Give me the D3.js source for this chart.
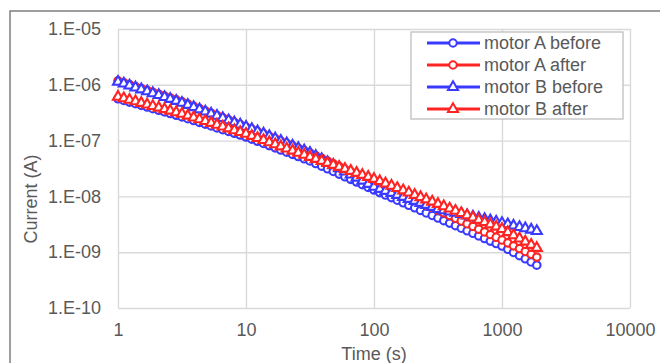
<!DOCTYPE html>
<html>
<head>
<meta charset="utf-8">
<script src="https://cdn.jsdelivr.net/npm/d3@7"></script>
<style>
body { margin: 0; background: #fff; }
svg { display: block; font-family: "Liberation Sans", Arial, sans-serif; }
</style>
</head>
<body>
<script>
// data
var timeS = [1, 1.11, 1.23, 1.37, 1.52, 1.69, 1.87, 2.08, 2.31, 2.56, 2.85, 3.16, 3.51, 3.90, 4.33, 4.81, 5.34, 5.93, 6.58, 7.31, 8.11, 9.01,
	10, 11.1, 12.3, 13.7, 15.2, 16.9, 18.7, 20.8, 23.1, 25.6, 28.5, 31.6, 35.1, 39.0, 43.3, 48.1, 53.4, 59.3, 65.8, 73.1, 81.1, 90.1,
	100, 111, 123, 137, 152, 169, 187, 208, 231, 256, 285, 316, 351, 390, 433, 481, 534, 593, 658, 731, 811, 901,
	1000, 1110, 1230, 1370, 1520, 1690, 1870];

var motorABefore = [5.61e-7, 5.25e-7, 4.90e-7, 4.58e-7, 4.28e-7, 4.00e-7, 3.73e-7, 3.49e-7, 3.26e-7, 3.05e-7, 2.84e-7, 2.66e-7,
	2.47e-7, 2.29e-7, 2.12e-7, 1.97e-7, 1.83e-7, 1.69e-7, 1.57e-7, 1.46e-7, 1.35e-7, 1.26e-7, 1.16e-7,
	1.06e-7, 9.72e-8, 8.89e-8, 8.13e-8, 7.41e-8, 6.78e-8, 6.19e-8, 5.66e-8, 5.18e-8, 4.73e-8, 4.33e-8,
	3.88e-8, 3.48e-8, 3.12e-8, 2.80e-8, 2.51e-8, 2.25e-8, 2.02e-8, 1.81e-8, 1.62e-8, 1.45e-8, 1.30e-8,
	1.17e-8, 1.06e-8, 9.51e-9, 8.55e-9, 7.69e-9, 6.92e-9, 6.24e-9, 5.61e-9, 5.05e-9, 4.55e-9, 4.09e-9,
	3.68e-9, 3.32e-9, 2.99e-9, 2.69e-9, 2.42e-9, 2.18e-9, 1.96e-9, 1.76e-9, 1.58e-9, 1.43e-9, 1.29e-9,
	1.13e-9, 9.89e-10, 8.67e-10, 7.62e-10, 6.68e-10, 5.86e-10];

var motorAAfter = [1.18e-6, 1.09e-6, 1.01e-6, 9.31e-7, 8.61e-7, 7.96e-7, 7.35e-7, 6.79e-7, 6.28e-7, 5.81e-7, 5.36e-7, 4.95e-7,
	4.51e-7, 4.10e-7, 3.74e-7, 3.40e-7, 3.10e-7, 2.82e-7, 2.57e-7, 2.34e-7, 2.13e-7, 1.94e-7, 1.76e-7,
	1.60e-7, 1.45e-7, 1.32e-7, 1.19e-7, 1.08e-7, 9.80e-8, 8.89e-8, 8.05e-8, 7.31e-8, 6.62e-8, 6.01e-8,
	5.37e-8, 4.80e-8, 4.29e-8, 3.83e-8, 3.42e-8, 3.06e-8, 2.74e-8, 2.44e-8, 2.18e-8, 1.95e-8, 1.74e-8,
	1.57e-8, 1.42e-8, 1.29e-8, 1.16e-8, 1.05e-8, 9.46e-9, 8.55e-9, 7.73e-9, 6.98e-9, 6.31e-9, 5.70e-9,
	5.09e-9, 4.55e-9, 4.06e-9, 3.63e-9, 3.24e-9, 2.90e-9, 2.59e-9, 2.31e-9, 2.07e-9, 1.85e-9, 1.65e-9,
	1.47e-9, 1.30e-9, 1.16e-9, 1.03e-9, 9.18e-10, 8.17e-10];

var motorBBefore = [1.13e-6, 1.05e-6, 9.66e-7, 8.93e-7, 8.26e-7, 7.64e-7, 7.05e-7, 6.52e-7, 6.03e-7, 5.57e-7, 5.14e-7, 4.75e-7,
	4.35e-7, 3.97e-7, 3.62e-7, 3.31e-7, 3.03e-7, 2.77e-7, 2.53e-7, 2.31e-7, 2.11e-7, 1.93e-7, 1.76e-7,
	1.61e-7, 1.46e-7, 1.33e-7, 1.20e-7, 1.09e-7, 9.85e-8, 8.93e-8, 8.09e-8, 7.34e-8, 6.65e-8, 6.04e-8,
	5.30e-8, 4.66e-8, 4.10e-8, 3.61e-8, 3.18e-8, 2.79e-8, 2.46e-8, 2.16e-8, 1.91e-8, 1.67e-8, 1.48e-8,
	1.36e-8, 1.25e-8, 1.15e-8, 1.06e-8, 9.75e-9, 8.99e-9, 8.28e-9, 7.62e-9, 7.01e-9, 6.46e-9, 5.94e-9,
	5.64e-9, 5.35e-9, 5.07e-9, 4.81e-9, 4.56e-9, 4.33e-9, 4.11e-9, 3.90e-9, 3.70e-9, 3.51e-9, 3.33e-9,
	3.15e-9, 2.98e-9, 2.82e-9, 2.67e-9, 2.53e-9, 2.39e-9];

var motorBAfter = [6.10e-7, 5.71e-7, 5.36e-7, 5.04e-7, 4.72e-7, 4.43e-7, 4.15e-7, 3.89e-7, 3.65e-7, 3.43e-7, 3.21e-7, 3.01e-7,
	2.79e-7, 2.59e-7, 2.40e-7, 2.23e-7, 2.07e-7, 1.92e-7, 1.78e-7, 1.65e-7, 1.53e-7, 1.42e-7, 1.32e-7,
	1.21e-7, 1.11e-7, 1.02e-7, 9.33e-8, 8.55e-8, 7.85e-8, 7.19e-8, 6.59e-8, 6.05e-8, 5.55e-8, 5.09e-8,
	4.69e-8, 4.32e-8, 3.97e-8, 3.66e-8, 3.37e-8, 3.10e-8, 2.86e-8, 2.63e-8, 2.42e-8, 2.23e-8, 2.05e-8,
	1.87e-8, 1.70e-8, 1.55e-8, 1.41e-8, 1.28e-8, 1.17e-8, 1.06e-8, 9.68e-9, 8.81e-9, 8.04e-9, 7.31e-9,
	6.65e-9, 6.05e-9, 5.52e-9, 5.02e-9, 4.57e-9, 4.16e-9, 3.78e-9, 3.45e-9, 3.14e-9, 2.86e-9, 2.60e-9,
	2.28e-9, 2.00e-9, 1.75e-9, 1.54e-9, 1.35e-9, 1.19e-9];

var seriesNames = ["motor A before", "motor A after", "motor B before", "motor B after"];
var xTicks = [1, 10, 100, 1000, 10000];
var yTicks = [1e-10, 1e-9, 1e-8, 1e-7, 1e-6, 1e-5];
var yTickLabels = ["1.E-10", "1.E-09", "1.E-08", "1.E-07", "1.E-06", "1.E-05"];

// series table
var series = [
	{name: seriesNames[0], values: motorABefore, color: "#3a3aff", marker: "circle"},
	{name: seriesNames[1], values: motorAAfter, color: "#ff2424", marker: "circle"},
	{name: seriesNames[2], values: motorBBefore, color: "#3a3aff", marker: "triangle"},
	{name: seriesNames[3], values: motorBAfter, color: "#ff2424", marker: "triangle"}
];

var w = 660, h = 363;
var pLeft = 118, pRight = 630, pTop = 29, pBottom = 308;
var textCol = "#595959", gridCol = "#d9d9d9";

var svg = d3.select("body").append("svg")
	.attr("width", w)
	.attr("height", h);

svg.append("rect")
	.attr("width", w).attr("height", h)
	.attr("fill", "#fff");

// outer chart frame (right and bottom edges fall outside the picture)
svg.append("rect")
	.attr("x", 10).attr("y", 11)
	.attr("width", 700).attr("height", 400)
	.attr("fill", "none")
	.attr("stroke", "#7f7f7f")
	.attr("stroke-width", 1.5);

var x = d3.scaleLog().domain([1, 10000]).range([pLeft, pRight]);
var y = d3.scaleLog().domain([1e-10, 1e-5]).range([pBottom, pTop]);

// grid
svg.append("g")
	.attr("transform", "translate(0," + pBottom + ")")
	.call(d3.axisBottom(x).tickValues(xTicks).tickSize(-(pBottom - pTop)).tickFormat(""))
	.call(function(g) { g.select(".domain").remove(); })
	.call(function(g) { g.selectAll("line").attr("stroke", gridCol).attr("stroke-width", 1.4); });

svg.append("g")
	.attr("transform", "translate(" + pLeft + ",0)")
	.call(d3.axisLeft(y).tickValues(yTicks).tickSize(-(pRight - pLeft)).tickFormat(""))
	.call(function(g) { g.select(".domain").remove(); })
	.call(function(g) { g.selectAll("line").attr("stroke", gridCol).attr("stroke-width", 1.4); });

// tick labels
svg.append("g")
	.attr("transform", "translate(0," + pBottom + ")")
	.call(d3.axisBottom(x).tickValues(xTicks).tickSize(0).tickPadding(15).tickFormat(d3.format("d")))
	.call(function(g) { g.select(".domain").remove(); })
	.call(function(g) {
		g.selectAll("text").attr("fill", textCol).style("font-size", "18px")
			.style("font-family", "'Liberation Sans', Arial, sans-serif");
	});

svg.append("g")
	.attr("transform", "translate(" + pLeft + ",0)")
	.call(d3.axisLeft(y).tickValues(yTicks).tickSize(0).tickPadding(17)
		.tickFormat(function(d, i) { return yTickLabels[i]; }))
	.call(function(g) { g.select(".domain").remove(); })
	.call(function(g) {
		g.selectAll("text").attr("fill", textCol).style("font-size", "18px")
			.style("font-family", "'Liberation Sans', Arial, sans-serif");
	});

// axis titles
svg.append("text")
	.attr("x", (pLeft + pRight) / 2)
	.attr("y", 360)
	.attr("text-anchor", "middle")
	.attr("fill", textCol)
	.style("font-size", "18px")
	.text("Time (s)");

svg.append("text")
	.attr("transform", "translate(37,199) rotate(-90)")
	.attr("text-anchor", "middle")
	.attr("fill", textCol)
	.style("font-size", "18px")
	.text("Current (A)");

// marker shapes
var circleSym = d3.symbol().type(d3.symbolCircle).size(44);
var triSym = d3.symbol().type(d3.symbolTriangle).size(44);

var line = d3.line()
	.x(function(d, i) { return x(timeS[i]); })
	.y(function(d) { return y(d); });

series.forEach(function(s) {
	var g = svg.append("g");
	g.append("path")
		.datum(s.values)
		.attr("d", line)
		.attr("fill", "none")
		.attr("stroke", s.color)
		.attr("stroke-width", 2.5);
	g.selectAll("path.mk")
		.data(s.values)
		.enter()
		.append("path")
		.attr("class", "mk")
		.attr("d", s.marker == "circle" ? circleSym : triSym)
		.attr("transform", function(d, i) {
			return "translate(" + x(timeS[i]) + "," + y(d) + ")";
		})
		.attr("fill", "#fff")
		.attr("stroke", s.color)
		.attr("stroke-width", 2.1);
});

// legend
var lg = svg.append("g");
lg.append("rect")
	.attr("x", 411).attr("y", 32)
	.attr("width", 212).attr("height", 87)
	.attr("fill", "#fff")
	.attr("stroke", "#bfbfbf")
	.attr("stroke-width", 1.3);

var item = lg.selectAll("g.item")
	.data(series)
	.enter()
	.append("g")
	.attr("class", "item")
	.attr("transform", function(d, i) { return "translate(0," + (43 + i * 22) + ")"; });

item.append("line")
	.attr("x1", 427).attr("x2", 480)
	.attr("stroke", function(d) { return d.color; })
	.attr("stroke-width", 3);

item.append("path")
	.attr("d", function(d) { return d.marker == "circle" ? circleSym() : triSym(); })
	.attr("transform", "translate(453,0)")
	.attr("fill", "#fff")
	.attr("stroke", function(d) { return d.color; })
	.attr("stroke-width", 2);

item.append("text")
	.attr("x", 484)
	.attr("dy", "0.35em")
	.attr("fill", textCol)
	.style("font-size", "18px")
	.text(function(d) { return d.name; });
</script>
</body>
</html>
